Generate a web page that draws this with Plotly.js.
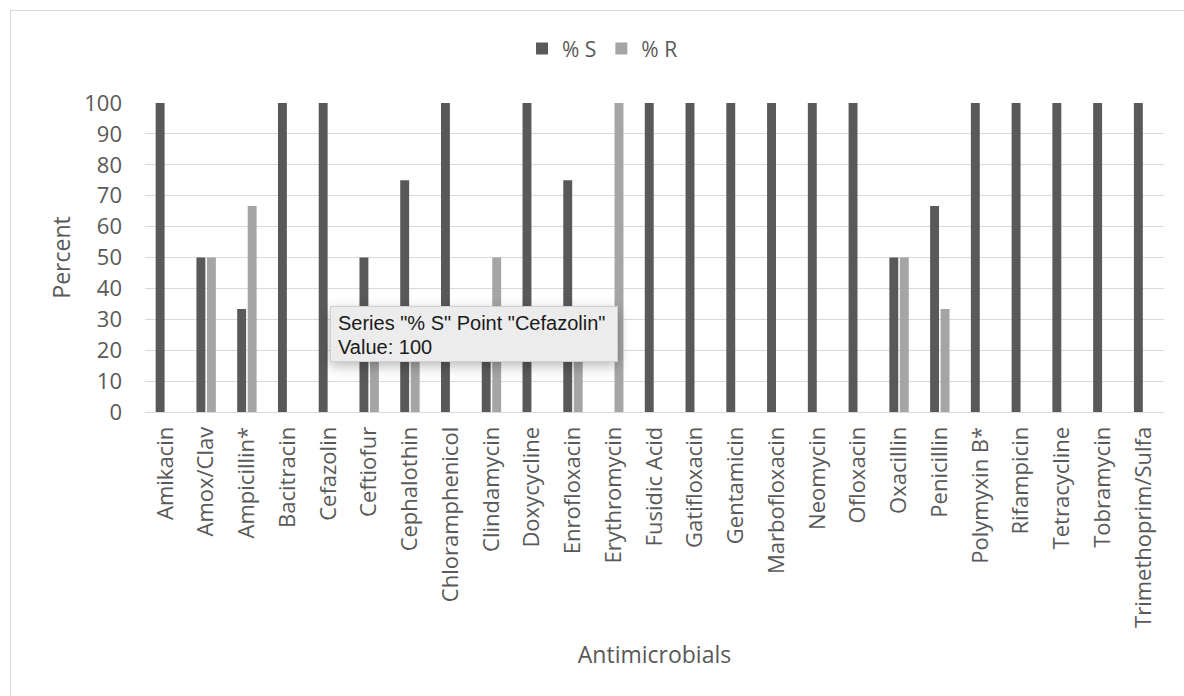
<!DOCTYPE html>
<html><head><meta charset="utf-8">
<script src="https://cdn.plot.ly/plotly-3.0.1.min.js"></script>
<style>
html,body{margin:0;padding:0;background:#fff;overflow:hidden;width:1184px;height:696px;}
#frame{position:absolute;left:10px;top:10px;width:1400px;height:900px;border:1px solid #d9d9d9;box-sizing:border-box;}
#chart{position:absolute;left:0;top:0;width:1184px;height:696px;}
#tip{position:absolute;left:330px;top:306px;width:288px;height:56px;background:#ececec;border:1px solid #cfcfcf;box-shadow:0 4px 12px rgba(0,0,0,0.28);font-family:'Liberation Sans',Arial,sans-serif;font-size:20px;line-height:24px;color:#1a1a1a;padding:4px 0 0 7px;box-sizing:border-box;white-space:nowrap;}
</style></head>
<body>
<div id="frame"></div>
<div id="chart"></div>
<div id="tip">Series "% S" Point "Cefazolin"<br>Value: 100</div>
<script>
const categories = ["Amikacin","Amox/Clav","Ampicillin*","Bacitracin","Cefazolin","Ceftiofur","Cephalothin","Chloramphenicol","Clindamycin","Doxycycline","Enrofloxacin","Erythromycin","Fusidic Acid","Gatifloxacin","Gentamicin","Marbofloxacin","Neomycin","Ofloxacin","Oxacillin","Penicillin","Polymyxin B*","Rifampicin","Tetracycline","Tobramycin","Trimethoprim/Sulfa"];
const pctS = [100,50,33.3,100,100,50,75,100,25,100,75,0,100,100,100,100,100,100,50,66.7,100,100,100,100,100];
const pctR = [0,50,66.7,0,0,25,25,0,50,0,25,100,0,0,0,0,0,0,50,33.3,0,0,0,0,0];
const yTicks = [0,10,20,30,40,50,60,70,80,90,100];

const txt = '#595959';
const fnt = 'Open Sans, sans-serif';

const data = [
  {type:'bar', name:'% S', x:categories, y:pctS, marker:{color:'#595959'}, hoverinfo:'skip'},
  {type:'bar', name:'% R', x:categories, y:pctR, marker:{color:'#a5a5a5'}, hoverinfo:'skip'}
];

const layout = {
  width:1184, height:696,
  paper_bgcolor:'rgba(0,0,0,0)', plot_bgcolor:'rgba(0,0,0,0)',
  margin:{l:145, r:20, t:103, b:284},
  barmode:'group', bargap:0.485, bargroupgap:0.15,
  font:{family:fnt, color:txt, size:20},
  showlegend:true,
  legend:{orientation:'h', x:0.449, xanchor:'center', y:1.175, yanchor:'middle',
          font:{family:fnt, size:21, color:txt}, bgcolor:'rgba(0,0,0,0)'},
  xaxis:{type:'category', tickangle:-90, automargin:false,
         tickfont:{family:fnt, size:22, color:txt},
         showline:true, linecolor:'#d9d9d9', linewidth:1, ticks:'', ticklabelstandoff:5,
         showgrid:false, fixedrange:true,
         title:{text:'Antimicrobials', font:{family:fnt, size:23, color:txt}, standoff:19}},
  yaxis:{range:[0,100], tickvals:yTicks, automargin:false,
         tickfont:{family:fnt, size:22, color:txt},
         showgrid:true, gridcolor:'#d9d9d9', gridwidth:1, zeroline:false, showline:false,
         ticks:'', ticklabelstandoff:22, fixedrange:true,
         title:{text:'Percent', font:{family:fnt, size:23, color:txt}, standoff:7}}
};

Plotly.newPlot('chart', data, layout, {displayModeBar:false, staticPlot:true});
</script>
</body></html>
